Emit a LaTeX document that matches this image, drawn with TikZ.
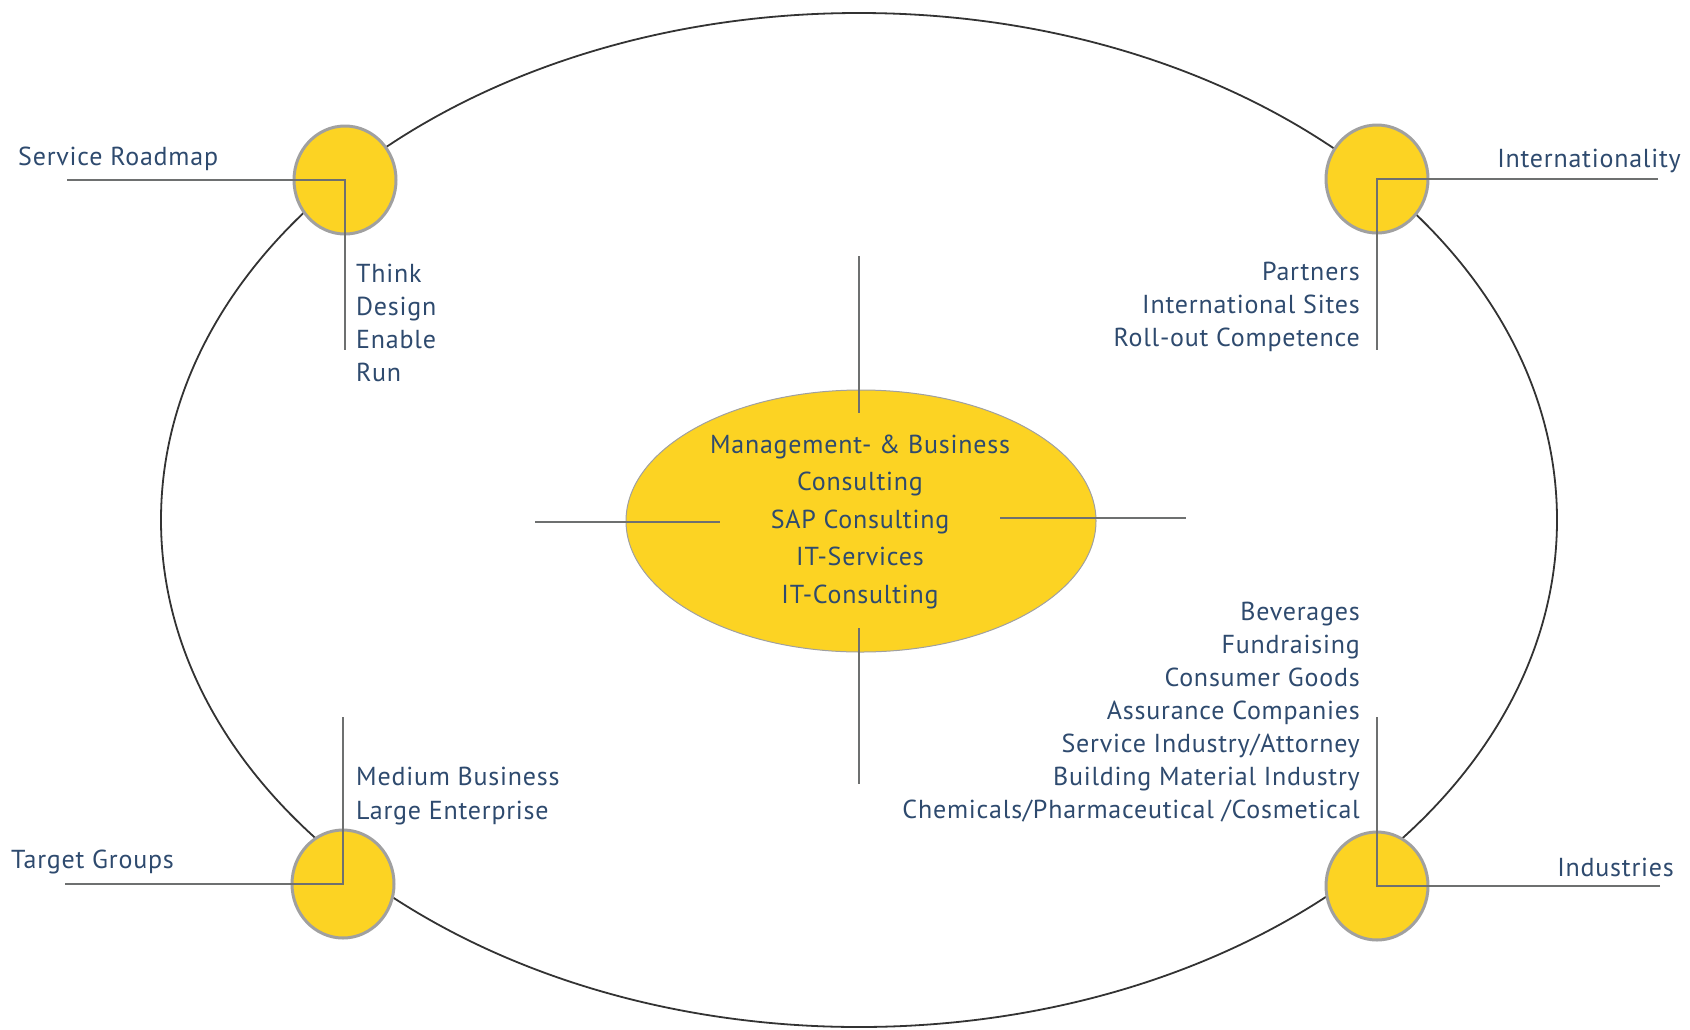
\documentclass[tikz,border=0pt]{standalone}
\usepackage{fontspec}
\setmainfont[LetterSpace=3]{PT Sans}
\usetikzlibrary{shapes.geometric}
\definecolor{txt}{HTML}{2E4A6E}
\definecolor{sun}{HTML}{FCD323}
\definecolor{rim}{HTML}{A0A0A0}
\definecolor{wire}{HTML}{6E7070}
\definecolor{orbit}{HTML}{333333}
\tikzset{
  lbl/.style={text=txt, inner sep=0pt, font=\fontsize{26}{30}\selectfont},
  hub/.style={ellipse, fill=sun, draw=rim, line width=3pt, inner sep=0pt,
              minimum width=102pt, minimum height=108pt},
  wireline/.style={draw=wire, line width=1.6pt},
}
\begin{document}
\begin{tikzpicture}[x=1pt, y=-1pt]
\useasboundingbox (0,0) rectangle (1690,1029);

% outer orbit
\node[ellipse, draw=orbit, line width=1.8pt, inner sep=0pt,
      minimum width=1396pt, minimum height=1014pt] (ring) at (859,520) {};

% central ellipse with its cross of lines
\node[ellipse, fill=sun, draw=rim, line width=1pt, inner sep=0pt,
      minimum width=470pt, minimum height=262pt] (core) at (861,521) {};
\coordinate (crossT1) at (859,256); \coordinate (crossT2) at (859,413);
\coordinate (crossB1) at (859,628); \coordinate (crossB2) at (859,784);
\coordinate (crossL1) at (535,522); \coordinate (crossL2) at (720,522);
\coordinate (crossR1) at (1000,518); \coordinate (crossR2) at (1186,518);
\draw[wireline] (crossT1) -- (crossT2);
\draw[wireline] (crossB1) -- (crossB2);
\draw[wireline] (crossL1) -- (crossL2);
\draw[wireline] (crossR1) -- (crossR2);

\foreach \t [count=\i] in {Management- \& Business, Consulting, SAP Consulting, IT-Services, IT-Consulting}
  \node[lbl, anchor=base] (core\i) at (860, {453+37.5*(\i-1)}) {\t};

% corner hubs
\node[hub] (hubTL) at (345,180) {};
\node[hub] (hubTR) at (1377,179) {};
\node[hub] (hubBL) at (343,884) {};
\node[hub] (hubBR) at (1377,886) {};

% leader lines
\coordinate (tlW) at (67,180);  \coordinate (tlS) at (345,350);
\coordinate (trE) at (1658,179); \coordinate (trS) at (1377,350);
\coordinate (blW) at (65,884);  \coordinate (blN) at (343,717);
\coordinate (brE) at (1660,886); \coordinate (brN) at (1377,717);
\draw[wireline] (tlW) -- (hubTL.center) -- (tlS);
\draw[wireline] (trE) -- (hubTR.center) -- (trS);
\draw[wireline] (blW) -- (hubBL.center) -- (blN);
\draw[wireline] (brE) -- (hubBR.center) -- (brN);

% titles
\node[lbl, anchor=base west] (tSR) at (18,165) {Service Roadmap};
\node[lbl, anchor=base east] (tIN) at (1681,167) {Internationality};
\node[lbl, anchor=base west] (tTG) at (11,868) {Target Groups};
\node[lbl, anchor=base east] (tID) at (1674,876) {Industries};

% lists
\foreach \t [count=\i] in {Think, Design, Enable, Run}
  \node[lbl, anchor=base west] (sr\i) at (356, {282+33*(\i-1)}) {\t};
\foreach \t [count=\i] in {Partners, International Sites, Roll-out Competence}
  \node[lbl, anchor=base east] (in\i) at (1360, {280+33*(\i-1)}) {\t};
\foreach \t [count=\i] in {Medium Business, Large Enterprise}
  \node[lbl, anchor=base west] (tg\i) at (356, {785+34*(\i-1)}) {\t};
\foreach \t [count=\i] in {Beverages, Fundraising, Consumer Goods, Assurance Companies,
    Service Industry/Attorney, Building Material Industry, Chemicals/Pharmaceutical /Cosmetical}
  \node[lbl, anchor=base east] (id\i) at (1360, {620+33*(\i-1)}) {\t};
\end{tikzpicture}
\end{document}
